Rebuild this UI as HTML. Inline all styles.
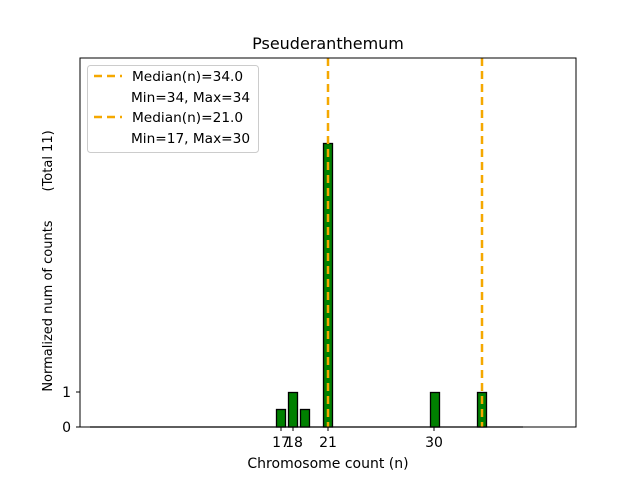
<!DOCTYPE html>
<html><head><style>body{margin:0;background:#fff}svg{display:block}</style></head><body>
<svg width="640" height="480" xmlns="http://www.w3.org/2000/svg" font-family="DejaVu Sans, Liberation Sans, sans-serif">
<rect width="640" height="480" fill="#fff"/>
<text x="328" y="49" font-size="16" text-anchor="middle">Pseuderanthemum</text>
<line x1="90" y1="427" x2="523" y2="427" stroke="#bbb" stroke-width="2"/>
<g fill="#008000" stroke="#000" stroke-width="1.3">
<rect x="276.5" y="409.5" width="9" height="17.5"/>
<rect x="288.5" y="392.5" width="9" height="34.5"/>
<rect x="300.5" y="409.5" width="9" height="17.5"/>
<rect x="323.5" y="143.5" width="9" height="283.5"/>
<rect x="430.5" y="392.5" width="9" height="34.5"/>
<rect x="477.5" y="392.5" width="9" height="34.5"/>
</g>
<g stroke="#f5a800" stroke-width="2.5" stroke-dasharray="8,5">
<line x1="328" y1="58" x2="328" y2="427"/>
<line x1="482" y1="58" x2="482" y2="427"/>
</g>
<rect x="80" y="58" width="496" height="369" fill="none" stroke="#000" stroke-width="1"/>
<g stroke="#000"><line x1="76" y1="427" x2="80" y2="427"/><line x1="76" y1="392" x2="80" y2="392"/>
<line x1="281" y1="427" x2="281" y2="431"/><line x1="293" y1="427" x2="293" y2="431"/><line x1="328" y1="427" x2="328" y2="431"/><line x1="434" y1="427" x2="434" y2="431"/></g>
<g font-size="14" text-anchor="end"><text x="71" y="432">0</text><text x="71" y="397">1</text></g>
<g font-size="14" text-anchor="middle"><text x="281" y="447">17</text><text x="294" y="447">18</text><text x="328" y="447">21</text><text x="434" y="447">30</text></g>
<text x="328" y="468" font-size="14" text-anchor="middle">Chromosome count (n)</text>
<text transform="translate(52,261) rotate(-90)" font-size="13" text-anchor="middle" xml:space="preserve">Normalized num of counts       (Total 11)</text>
<rect x="87.5" y="65.5" width="171" height="87" rx="3" fill="#fff" stroke="#ccc"/>
<g stroke="#f5a800" stroke-width="2.5" stroke-dasharray="8,5"><line x1="94" y1="76" x2="122" y2="76"/><line x1="94" y1="117" x2="122" y2="117"/></g>
<g font-size="13.7"><text x="132" y="81">Median(n)=34.0</text><text x="131" y="102">Min=34, Max=34</text><text x="132" y="122">Median(n)=21.0</text><text x="131" y="143">Min=17, Max=30</text></g>
</svg>
</body></html>
